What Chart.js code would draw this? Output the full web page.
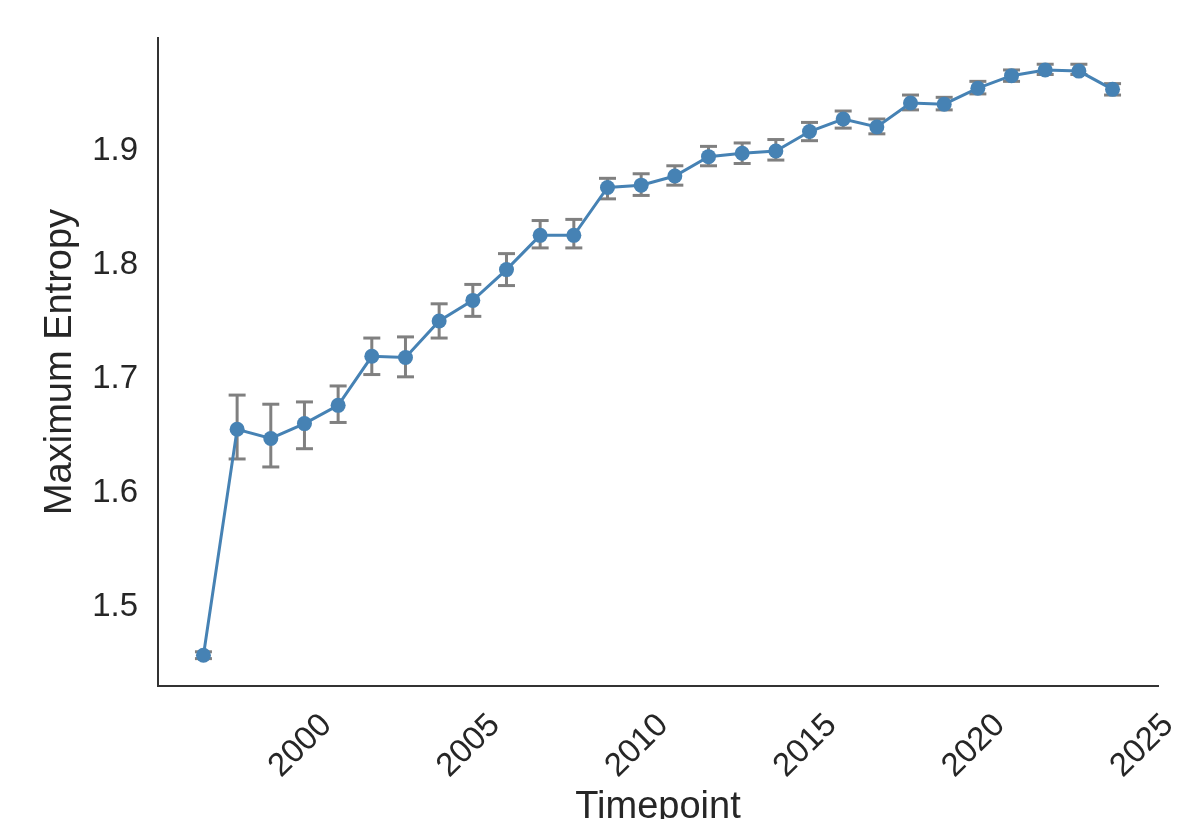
<!DOCTYPE html>
<html>
<head>
<meta charset="utf-8">
<script src="https://cdn.jsdelivr.net/npm/chart.js@4/dist/chart.umd.min.js"></script>
<style>
  html, body { margin: 0; padding: 0; background: #ffffff; overflow: hidden; width: 1177px; height: 819px; }
  #wrap { width: 1177px; height: 860px; }
</style>
</head>
<body>
<div id="wrap"><canvas id="c" width="1177" height="860"></canvas></div>
<script>
// ---- data ----
const years = [1997, 1998, 1999, 2000, 2001, 2002, 2003, 2004, 2005, 2006, 2007, 2008, 2009, 2010,
               2011, 2012, 2013, 2014, 2015, 2016, 2017, 2018, 2019, 2020, 2021, 2022, 2023, 2024];
const meanEntropy = [1.458, 1.656, 1.648, 1.661, 1.677, 1.720, 1.719, 1.751, 1.769, 1.796, 1.826, 1.826, 1.868, 1.870,
                     1.878, 1.895, 1.898, 1.900, 1.917, 1.928, 1.921, 1.942, 1.941, 1.955, 1.966, 1.971, 1.970, 1.954];
const lowerBound = [1.455, 1.630, 1.623, 1.639, 1.662, 1.704, 1.702, 1.736, 1.755, 1.782, 1.815, 1.815, 1.858, 1.861,
                    1.870, 1.887, 1.889, 1.892, 1.909, 1.920, 1.915, 1.936, 1.936, 1.950, 1.961, 1.967, 1.967, 1.949];
const upperBound = [1.461, 1.686, 1.678, 1.680, 1.694, 1.736, 1.737, 1.766, 1.783, 1.810, 1.839, 1.840, 1.876, 1.880,
                    1.887, 1.904, 1.907, 1.910, 1.925, 1.935, 1.928, 1.949, 1.947, 1.961, 1.971, 1.976, 1.976, 1.959];
const xTickValues = [2000, 2005, 2010, 2015, 2020, 2025];
const yTickValues = [1.5, 1.6, 1.7, 1.8, 1.9];
const xLabel = 'Timepoint';
const yLabel = 'Maximum Entropy';

// ---- build library datasets from the arrays ----
const meanPoints = years.map((yr, i) => ({ x: yr, y: meanEntropy[i] }));
const stemPoints = [];
years.forEach((yr, i) => {
  stemPoints.push({ x: yr, y: lowerBound[i] });
  stemPoints.push({ x: yr, y: upperBound[i] });
  stemPoints.push({ x: yr, y: null });
});
const capPoints = [];
years.forEach((yr, i) => {
  capPoints.push({ x: yr, y: lowerBound[i] });
  capPoints.push({ x: yr, y: upperBound[i] });
});

const FONT = '"Liberation Sans", Arial, Helvetica, sans-serif';
const TEXT = '#262626';
const BLUE = '#4682B4';
const GREY = '#808080';

new Chart(document.getElementById('c'), {
  type: 'line',
  data: {
    datasets: [
      {
        label: 'mean',
        data: meanPoints,
        borderColor: BLUE,
        backgroundColor: BLUE,
        borderWidth: 3,
        pointRadius: 7.5,
        pointBackgroundColor: BLUE,
        pointBorderWidth: 0,
        tension: 0,
        order: 0
      },
      {
        label: 'caps',
        data: capPoints,
        showLine: false,
        pointStyle: 'line',
        pointRadius: 8.5,
        pointBorderWidth: 3,
        pointBorderColor: GREY,
        borderColor: GREY,
        order: 1
      },
      {
        label: 'stems',
        data: stemPoints,
        borderColor: GREY,
        borderWidth: 3,
        pointRadius: 0,
        spanGaps: false,
        tension: 0,
        order: 2
      }
    ]
  },
  options: {
    responsive: false,
    animation: false,
    events: [],
    layout: { padding: { top: 38, right: 19, left: 0, bottom: 0 } },
    plugins: { legend: { display: false }, tooltip: { enabled: false } },
    scales: {
      x: {
        type: 'linear',
        min: 1995.65,
        max: 2025.35,
        grid: { display: false, drawTicks: false },
        border: { display: true, color: '#333333', width: 2 },
        afterBuildTicks: (s) => { s.ticks = xTickValues.map(v => ({ value: v })); },
        afterFit: (s) => { s.height = 174; s.paddingLeft = 0; s.paddingRight = 0; },
        ticks: {
          color: TEXT,
          font: { family: FONT, size: 33 },
          minRotation: 45,
          maxRotation: 45,
          padding: 20,
          labelOffset: 22,
          autoSkip: false,
          callback: (v) => String(v)
        },
        title: {
          display: true,
          text: xLabel,
          color: TEXT,
          font: { family: FONT, size: 38 },
          padding: { top: 0, bottom: 30 }
        }
      },
      y: {
        type: 'linear',
        min: 1.431,
        max: 1.999,
        grid: { display: false, drawTicks: false },
        border: { display: true, color: '#333333', width: 2 },
        afterBuildTicks: (s) => { s.ticks = yTickValues.map(v => ({ value: v })); },
        afterFit: (s) => { s.width = 158; s.paddingTop = 0; s.paddingBottom = 0; },
        ticks: {
          color: TEXT,
          font: { family: FONT, size: 33 },
          padding: 20,
          autoSkip: false,
          callback: (v) => Number(v).toFixed(1)
        },
        title: {
          display: true,
          text: yLabel,
          color: TEXT,
          font: { family: FONT, size: 38 },
          padding: { top: 38, bottom: 0 }
        }
      }
    }
  }
});
</script>
</body>
</html>
